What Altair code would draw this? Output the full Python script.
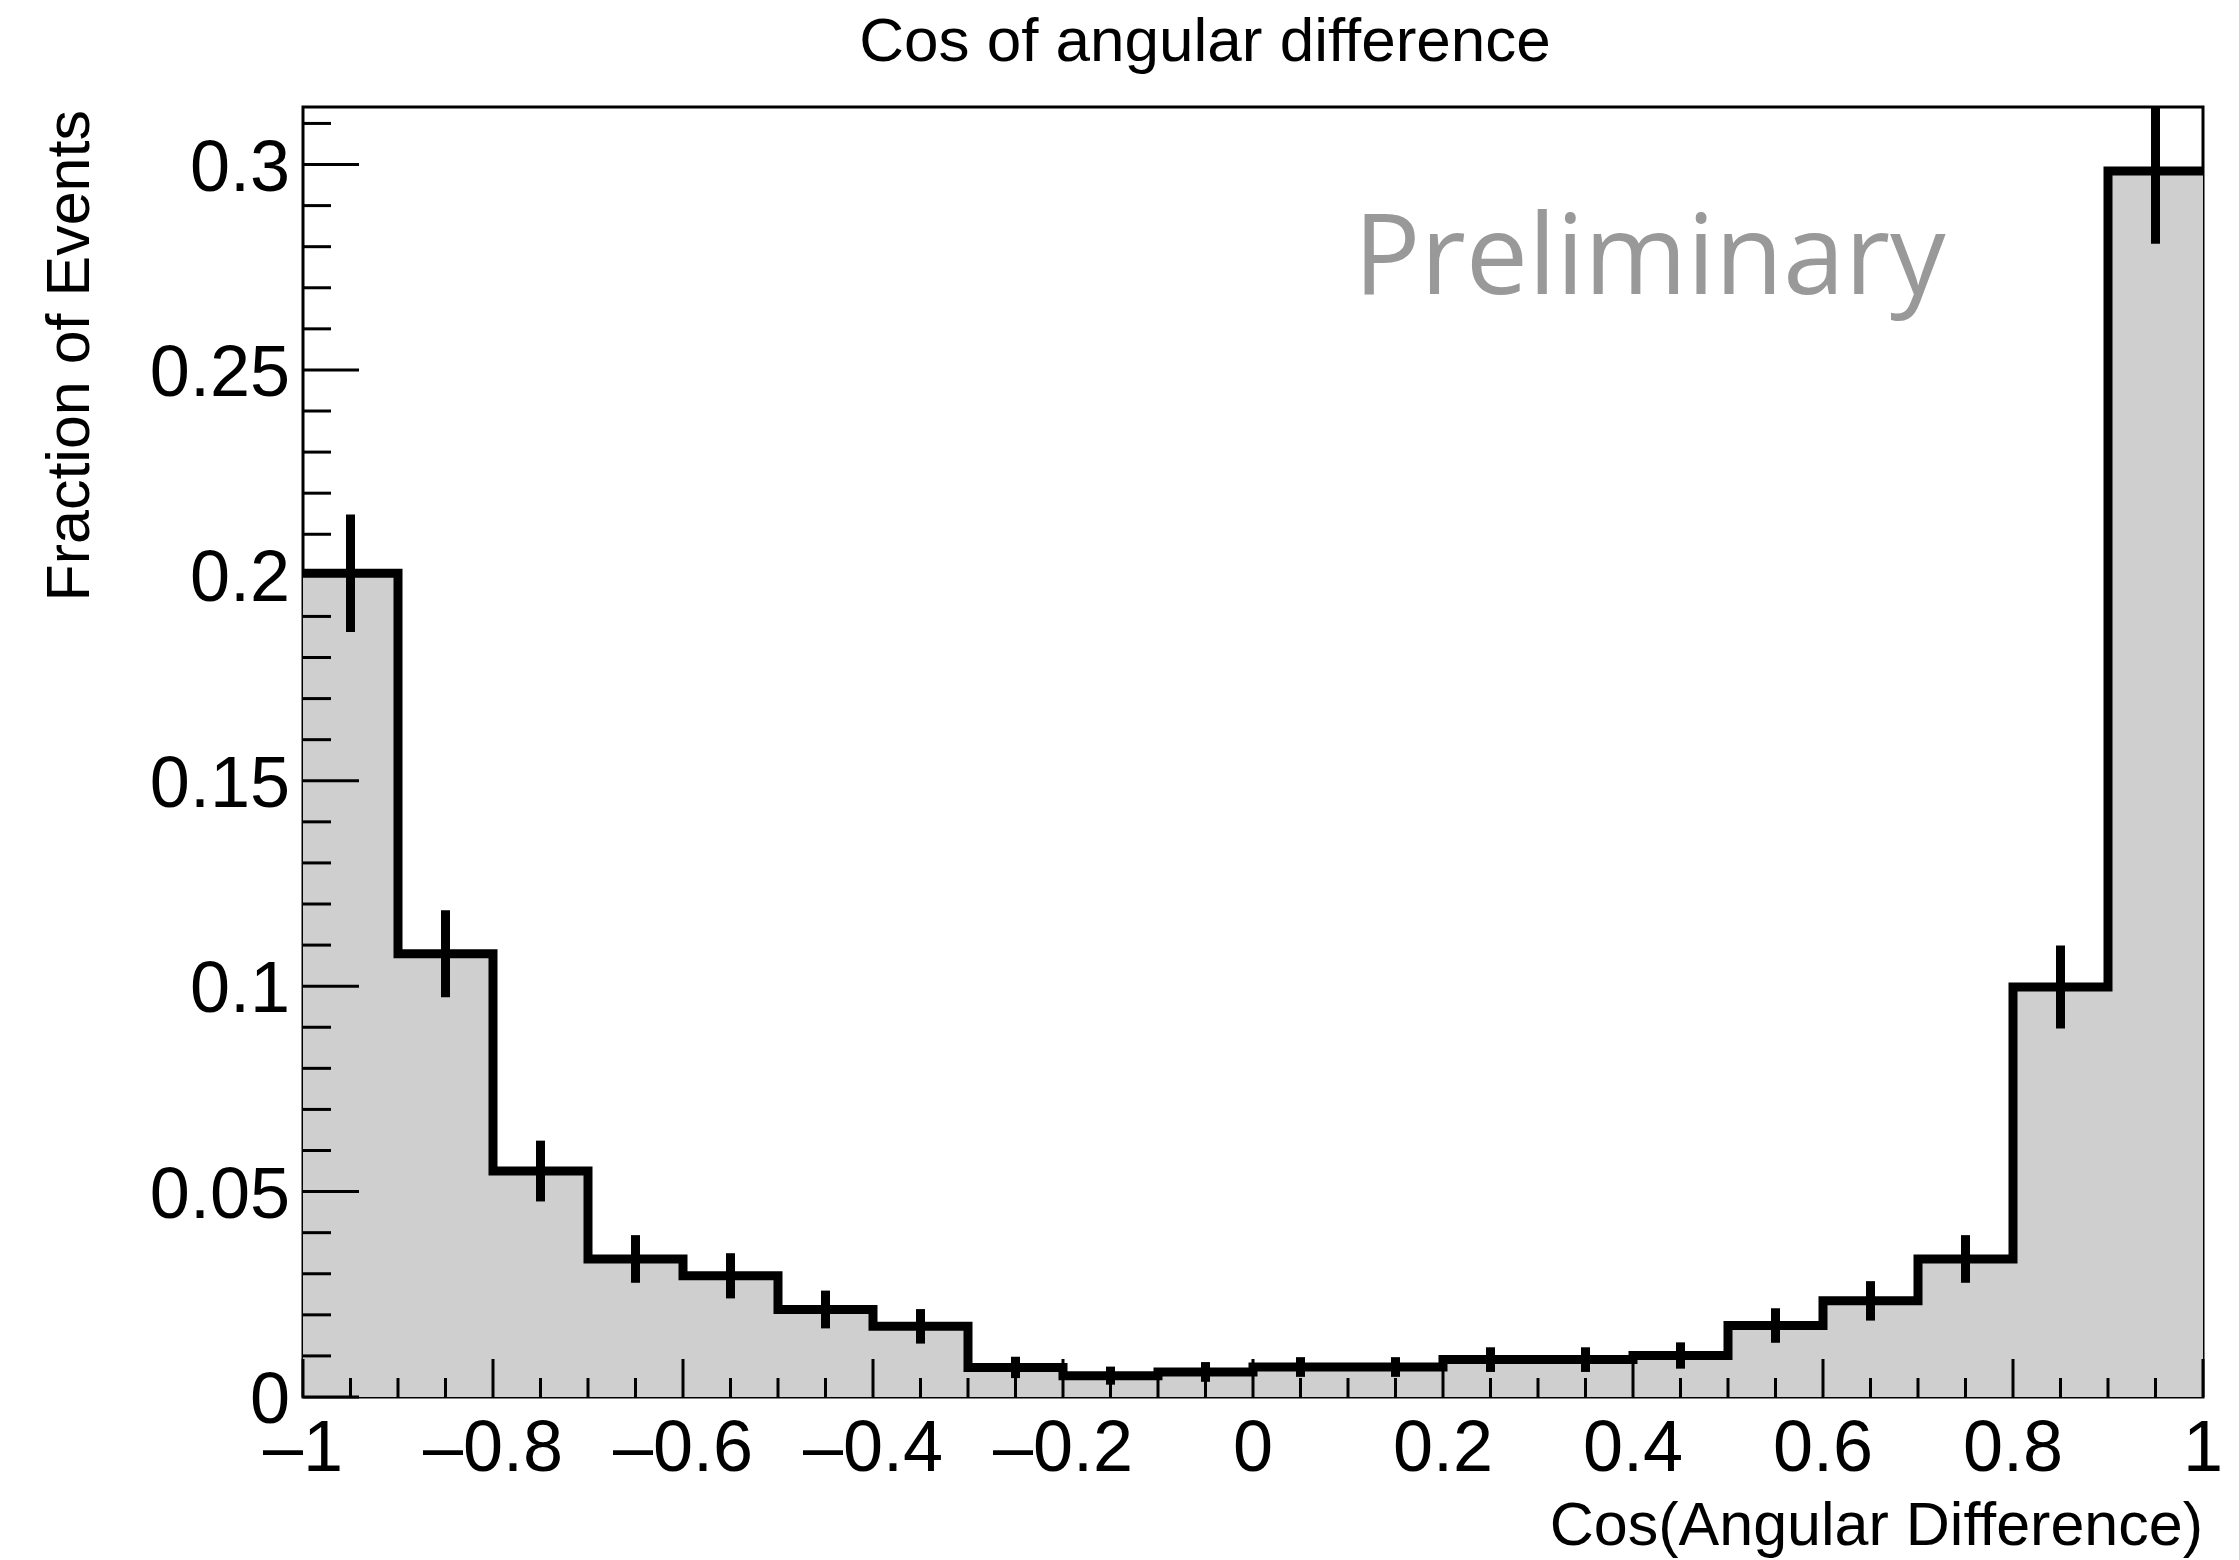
import altair as alt
import pandas as pd

# Histogram of cos(angular difference): 20 bins from -1 to 1, normalised to unit area
bin_lo = [-1.0, -0.9, -0.8, -0.7, -0.6, -0.5, -0.4, -0.3, -0.2, -0.1,
          0.0, 0.1, 0.2, 0.3, 0.4, 0.5, 0.6, 0.7, 0.8, 0.9]
bin_hi = [-0.9, -0.8, -0.7, -0.6, -0.5, -0.4, -0.3, -0.2, -0.1, 0.0,
          0.1, 0.2, 0.3, 0.4, 0.5, 0.6, 0.7, 0.8, 0.9, 1.0]
frac = [0.2005, 0.1079, 0.0550, 0.0336, 0.0295, 0.0213, 0.0172, 0.0072, 0.0052, 0.0061,
        0.0073, 0.0073, 0.0091, 0.0091, 0.0101, 0.0174, 0.0234, 0.0336, 0.0998, 0.2984]
frac_err = [0.0143, 0.0106, 0.0074, 0.0058, 0.0055, 0.0046, 0.0042, 0.0026, 0.0022, 0.0024,
            0.0024, 0.0024, 0.0030, 0.0030, 0.0032, 0.0042, 0.0048, 0.0058, 0.0101, 0.0177]

# Axis tick values
x_major = [-1, -0.8, -0.6, -0.4, -0.2, 0, 0.2, 0.4, 0.6, 0.8, 1]
x_minor = [-0.95, -0.9, -0.85, -0.75, -0.7, -0.65, -0.55, -0.5, -0.45, -0.35, -0.3, -0.25,
           -0.15, -0.1, -0.05, 0.05, 0.1, 0.15, 0.25, 0.3, 0.35, 0.45, 0.5, 0.55, 0.65,
           0.7, 0.75, 0.85, 0.9, 0.95]
y_major = [0, 0.05, 0.1, 0.15, 0.2, 0.25, 0.3]
y_minor = [0.01, 0.02, 0.03, 0.04, 0.06, 0.07, 0.08, 0.09, 0.11, 0.12, 0.13, 0.14,
           0.16, 0.17, 0.18, 0.19, 0.21, 0.22, 0.23, 0.24, 0.26, 0.27, 0.28, 0.29, 0.31]

W, H = 1900, 1290
FONT = "Liberation Sans"


def tick_text(v):
    # ROOT-style labels: shortest form, dash for negatives
    return f"{v:g}".replace("-", "\u2013")


bins = pd.DataFrame({"lo": bin_lo, "hi": bin_hi, "frac": frac, "err": frac_err})
bins["mid"] = (bins["lo"] + bins["hi"]) / 2
bins["low"] = bins["frac"] - bins["err"]
bins["high"] = bins["frac"] + bins["err"]
bins["zero"] = 0.0

steps = pd.DataFrame({"edge": bin_lo + [bin_hi[-1]], "frac": frac + [frac[-1]]})
xlab = pd.DataFrame({"v": x_major, "t": [tick_text(v) for v in x_major]})
ylab = pd.DataFrame({"v": y_major, "t": [tick_text(v) for v in y_major]})

xs = alt.Scale(domain=[-1, 1], nice=False, zero=False)
ys = alt.Scale(domain=[0, 0.314], nice=False, zero=False)

# dotted-fill histogram body
body = alt.Chart(bins).mark_rect(color="#cfcfcf", strokeWidth=0).encode(
    x=alt.X("lo:Q", scale=xs, axis=None),
    x2="hi:Q",
    y=alt.Y("frac:Q", scale=ys, axis=None),
    y2="zero:Q",
)

# inward-pointing ticks on the left and bottom frame edges
def yticks(vals, length):
    return alt.Chart(pd.DataFrame({"v": vals})).mark_rule(color="black", strokeWidth=3).encode(
        y=alt.Y("v:Q", scale=ys, axis=None),
        x=alt.value(0), x2=alt.value(length),
    )

def xticks(vals, length):
    return alt.Chart(pd.DataFrame({"v": vals})).mark_rule(color="black", strokeWidth=3).encode(
        x=alt.X("v:Q", scale=xs, axis=None),
        y=alt.value(H), y2=alt.value(H - length),
    )

# tick labels
xlabels = alt.Chart(xlab).mark_text(
    font=FONT, fontSize=72, color="black", align="center", baseline="alphabetic",
).encode(
    x=alt.X("v:Q", scale=xs, axis=None), y=alt.value(H + 74), text="t:N",
)
ylabels = alt.Chart(ylab).mark_text(
    font=FONT, fontSize=72, color="black", align="right", baseline="alphabetic", dy=26,
).encode(
    y=alt.Y("v:Q", scale=ys, axis=None), x=alt.value(-13), text="t:N",
)

# axis titles and plot title
xtitle = alt.Chart(pd.DataFrame({"t": ["Cos(Angular Difference)"]})).mark_text(
    font=FONT, fontSize=61, color="black", align="right", baseline="alphabetic",
).encode(x=alt.value(W), y=alt.value(H + 148), text="t:N")
ytitle = alt.Chart(pd.DataFrame({"t": ["Fraction of Events"]})).mark_text(
    font=FONT, fontSize=61, color="black", align="right", baseline="alphabetic", angle=270,
).encode(x=alt.value(-214), y=alt.value(3), text="t:N")
maintitle = alt.Chart(pd.DataFrame({"t": ["Cos of angular difference"]})).mark_text(
    font=FONT, fontSize=62, color="black", align="center", baseline="alphabetic",
).encode(x=alt.value(902), y=alt.value(-46), text="t:N")

outline = alt.Chart(steps).mark_line(
    interpolate="step-after", color="black", strokeWidth=9,
    strokeCap="butt", strokeJoin="miter",
).encode(
    x=alt.X("edge:Q", scale=xs, axis=None),
    y=alt.Y("frac:Q", scale=ys, axis=None),
)

errbars = alt.Chart(bins).mark_rule(color="black", strokeWidth=9, clip=True).encode(
    x=alt.X("mid:Q", scale=xs, axis=None),
    y=alt.Y("low:Q", scale=ys, axis=None),
    y2="high:Q",
)

label = alt.Chart(pd.DataFrame({"t": ["Preliminary"]})).mark_text(
    font="Open Sans", fontSize=111, color="#999999", align="left", baseline="alphabetic",
).encode(
    x=alt.X("px:Q", scale=xs, axis=None),
    y=alt.Y("py:Q", scale=ys, axis=None),
    text="t:N",
).transform_calculate(px="0.106", py="0.2686")

chart = alt.layer(
    body,
    yticks(y_major, 56), yticks(y_minor, 28),
    xticks(x_major, 38), xticks(x_minor, 19),
    outline, errbars, label,
    xlabels, ylabels, xtitle, ytitle, maintitle,
).properties(
    width=W, height=H,
    autosize=alt.AutoSizeParams(type="none"),
    padding={"left": 303, "top": 107, "right": 36, "bottom": 163},
    background="white",
).configure_view(stroke="black", strokeWidth=3)

chart.save("out.html", embed_options={"renderer": "svg", "actions": False})
